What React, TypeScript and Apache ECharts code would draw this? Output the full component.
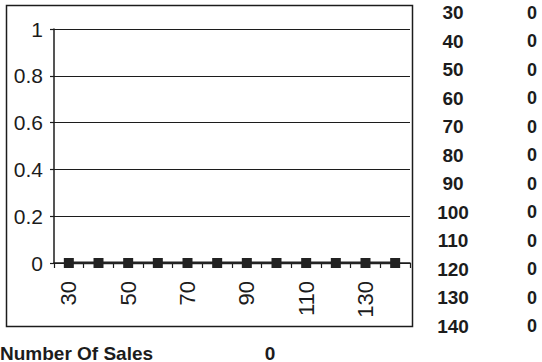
import React, { useEffect, useRef } from "react";
import * as echarts from "echarts";

const categories = ["30", "40", "50", "60", "70", "80", "90", "100", "110", "120", "130", "140"];
const salesValues = [0, 0, 0, 0, 0, 0, 0, 0, 0, 0, 0, 0];
const yTickLabels = ["0", "0.2", "0.4", "0.6", "0.8", "1"];
const summaryLabel = "Number Of Sales";
const summaryValue = "0";

const FONT = "'Liberation Sans', Arial, sans-serif";
const INK = "#1c1c1c";

export default function App() {
  const ref = useRef<HTMLDivElement>(null);

  useEffect(() => {
    if (!ref.current) return;
    const chart = echarts.init(ref.current, undefined, { renderer: "svg" });

    const tableTexts: any[] = [];
    categories.forEach((c, i) => {
      const y = 12.5 + 28.5 * i;
      tableTexts.push({
        type: "text",
        x: 453,
        y,
        style: {
          text: c,
          font: `bold 19px ${FONT}`,
          fill: INK,
          textAlign: "center",
          textVerticalAlign: "middle",
        },
      });
      tableTexts.push({
        type: "text",
        x: 532,
        y,
        style: {
          text: String(salesValues[i]),
          font: `bold 18px ${FONT}`,
          fill: INK,
          textAlign: "center",
          textVerticalAlign: "middle",
        },
      });
    });

    chart.setOption({
      animation: false,
      backgroundColor: "#ffffff",
      grid: { left: 54, right: 132, top: 29, bottom: 99, containLabel: false },
      xAxis: {
        type: "category",
        data: categories,
        boundaryGap: true,
        axisLine: { show: true, lineStyle: { color: INK, width: 1.5 } },
        axisTick: { show: true, interval: 0, length: 5, lineStyle: { color: INK, width: 1.2 } },
        axisLabel: {
          interval: 1,
          rotate: 90,
          margin: 18,
          fontFamily: FONT,
          fontSize: 22,
          color: INK,
        },
        splitLine: { show: false },
      },
      yAxis: {
        type: "value",
        min: 0,
        max: 1,
        interval: 0.2,
        axisLine: { show: true, lineStyle: { color: INK, width: 1.5 } },
        axisTick: { show: true, length: 4, lineStyle: { color: INK, width: 1.2 } },
        axisLabel: {
          margin: 11,
          fontFamily: FONT,
          fontSize: 21,
          color: INK,
          formatter: (v: number) => yTickLabels[Math.round(v * 5)] ?? String(v),
        },
        splitLine: { show: true, lineStyle: { color: INK, width: 1.2 } },
      },
      series: [
        {
          type: "line",
          data: salesValues,
          symbol: "rect",
          symbolSize: 10,
          showSymbol: true,
          itemStyle: { color: "#222222" },
          lineStyle: { color: "#222222", width: 3 },
        },
      ],
      graphic: [
        {
          type: "rect",
          shape: { x: 6.5, y: 5.5, width: 406, height: 321 },
          style: { fill: "none", stroke: INK, lineWidth: 1.5 },
          silent: true,
        },
        ...tableTexts,
        {
          type: "text",
          x: 0,
          y: 353,
          style: {
            text: summaryLabel,
            font: `bold 19px ${FONT}`,
            fill: INK,
            textAlign: "left",
            textVerticalAlign: "middle",
          },
        },
        {
          type: "text",
          x: 270,
          y: 353,
          style: {
            text: summaryValue,
            font: `bold 19px ${FONT}`,
            fill: INK,
            textAlign: "center",
            textVerticalAlign: "middle",
          },
        },
      ],
    });

    return () => chart.dispose();
  }, []);

  return (
    <div
      ref={ref}
      style={{ position: "fixed", left: 0, top: 0, width: 542, height: 362, background: "#fff" }}
    />
  );
}
